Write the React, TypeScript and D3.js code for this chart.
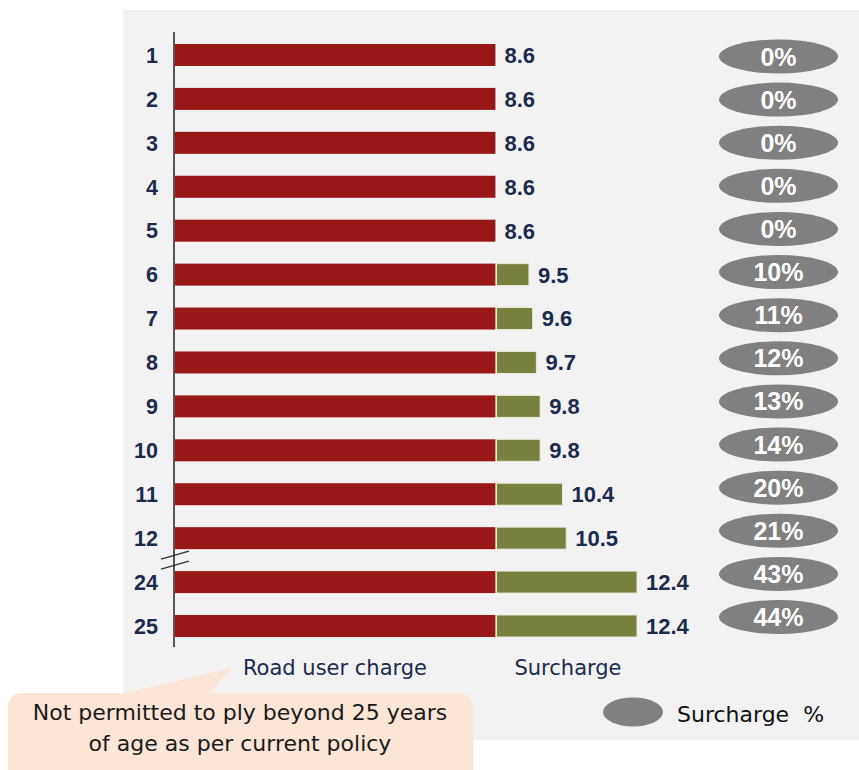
import * as d3 from "d3";

// vehicle age (years) shown on the y axis; 13-23 are skipped (axis break)
const ages = ["1", "2", "3", "4", "5", "6", "7", "8", "9", "10", "11", "12", "24", "25"];
const roadUserCharge = [8.6, 8.6, 8.6, 8.6, 8.6, 8.6, 8.6, 8.6, 8.6, 8.6, 8.6, 8.6, 8.6, 8.6];
const totalCharge = [8.6, 8.6, 8.6, 8.6, 8.6, 9.5, 9.6, 9.7, 9.8, 9.8, 10.4, 10.5, 12.4, 12.4];
const surchargePct = [0, 0, 0, 0, 0, 10, 11, 12, 13, 14, 20, 21, 43, 44];
const seriesLabels = ["Road user charge", "Surcharge"];
const noteLines = ["Not permitted to ply beyond 25 years", "of age as per current policy"];

const W = 859;
const H = 770;
const RED = "#981818";
const GREEN = "#78803e";
const NAVY = "#1c2a4d";
const GREY = "#808080";
const ARIAL = "'Liberation Sans', Arial, sans-serif";
const DEJAVU = "'DejaVu Sans', sans-serif";

export default function App() {
  let rows = ages.map((age, i) => ({
    age,
    base: roadUserCharge[i],
    total: totalCharge[i],
    pct: surchargePct[i],
  }));

  let xScale = d3.scaleLinear().domain([0, 12.4]).range([175, 637]);
  let yScale = d3.scalePoint().domain(ages).range([55, 626]);
  let pillY = d3.scalePoint().domain(ages).range([56.5, 617]);
  let barH = 22;

  // axis break sits halfway between 12 and 24
  let breakY = ((yScale("12") as number) + (yScale("24") as number)) / 2;
  let x0 = xScale(0);

  return (
    <svg
      width={W}
      height={H}
      viewBox={`0 0 ${W} ${H}`}
      style={{ position: "absolute", left: 0, top: 0, display: "block" }}
    >
      <rect width={W} height={H} fill="#ffffff" />
      {/* panel */}
      <rect x={123} y={10} width={W - 123} height={730} fill="#f2f2f2" />

      {/* bars */}
      {rows.map((r) => {
        let cy = yScale(r.age) as number;
        return (
          <g key={r.age}>
            <rect
              x={x0}
              y={cy - barH / 2}
              width={xScale(r.base) - x0}
              height={barH}
              fill={RED}
            />
            {r.total > r.base && (
              <rect
                x={xScale(r.base) + 1}
                y={cy - barH / 2}
                width={xScale(r.total) - xScale(r.base) - 1}
                height={barH}
                fill={GREEN}
                stroke="#e9ecd4"
                strokeWidth={1}
              />
            )}
            <text
              x={xScale(r.total) + 9}
              y={cy}
              dy="0.36em"
              fontFamily={ARIAL}
              fontWeight="bold"
              fontSize={22}
              fill={NAVY}
            >
              {r.total.toFixed(1)}
            </text>
            <text
              x={158}
              y={cy}
              dy="0.36em"
              textAnchor="end"
              fontFamily={ARIAL}
              fontWeight="bold"
              fontSize={21.5}
              fill={NAVY}
            >
              {r.age}
            </text>
          </g>
        );
      })}

      {/* surcharge % pills */}
      {rows.map((r) => {
        let cy = pillY(r.age) as number;
        return (
          <g key={"p" + r.age}>
            <ellipse cx={778.5} cy={cy} rx={59.5} ry={17} fill={GREY} />
            <text
              x={778.5}
              y={cy}
              dy="0.36em"
              textAnchor="middle"
              fontFamily={ARIAL}
              fontWeight="bold"
              fontSize={25}
              fill="#ffffff"
            >
              {r.pct + "%"}
            </text>
          </g>
        );
      })}

      {/* y axis line */}
      <line x1={x0 - 1} x2={x0 - 1} y1={32} y2={647} stroke="#222" strokeWidth={1.5} />

      {/* axis break marks */}
      {[-5, 5].map((off) => (
        <line
          key={off}
          x1={161}
          y1={breakY + off + 4}
          x2={189}
          y2={breakY + off - 4}
          stroke="#333"
          strokeWidth={1.3}
        />
      ))}

      {/* series labels */}
      <text x={335} y={675} textAnchor="middle" fontFamily={DEJAVU} fontSize={21} fill={NAVY}>
        {seriesLabels[0]}
      </text>
      <text x={568} y={675} textAnchor="middle" fontFamily={DEJAVU} fontSize={21} fill={NAVY}>
        {seriesLabels[1]}
      </text>

      {/* legend */}
      <ellipse cx={633} cy={712} rx={30} ry={14.5} fill={GREY} />
      <text x={677} y={722} fontFamily={DEJAVU} fontSize={22} fill="#111">
        {"Surcharge\u00a0 %"}
      </text>

      {/* callout */}
      <polygon points="111,696 208,696 232,668" fill="#fbe5d6" />
      <rect x={8} y={693} width={465} height={110} rx={14} fill="#fbe5d6" />
      {noteLines.map((t, i) => (
        <text
          key={i}
          x={240}
          y={720 + i * 31}
          textAnchor="middle"
          fontFamily={DEJAVU}
          fontSize={22}
          fill="#1a1a1a"
        >
          {t}
        </text>
      ))}
    </svg>
  );
}
